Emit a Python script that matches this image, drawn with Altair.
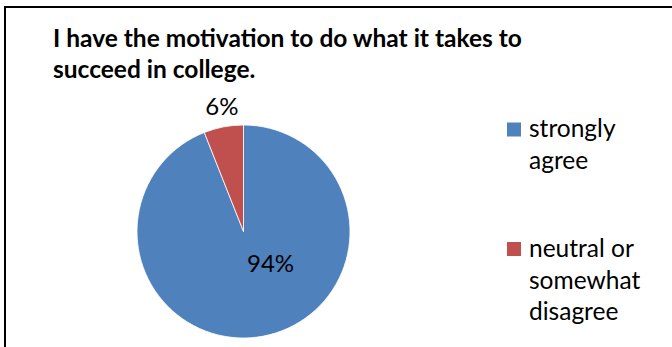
import altair as alt
import pandas as pd

categories = ["strongly agree", "neutral or somewhat disagree"]
values = [94, 6]
pct_labels = ["94%", "6%"]
legend_texts = ["strongly\nagree", "neutral or\nsomewhat\ndisagree"]
colors = ["#4F81BD", "#C0504D"]
title_text = "I have the motivation to do what it takes to\nsucceed in college."

FONT = "Lato"

df = pd.DataFrame({
    "cat": categories,
    "value": values,
    "label": pct_labels,
    "legend": legend_texts,
    "idx": list(range(len(categories))),
})
title_df = pd.DataFrame({"t": [title_text]})

color_scale = alt.Scale(domain=categories, range=colors)
base = alt.Chart(df)

CX, CY, R = 243.5, 231.5, 106.5

pie = base.mark_arc(radius=R, stroke="white", strokeWidth=0.8).encode(
    x=alt.value(CX), y=alt.value(CY),
    theta=alt.Theta("value:Q", stack=True),
    color=alt.Color("cat:N", scale=color_scale, legend=None),
    order=alt.Order("idx:Q"),
)

lab_small = base.transform_calculate(
    txt="datum.value < 50 ? datum.label : ''"
).mark_text(radius=126, font=FONT, fontSize=24, color="black", dx=2,
            align="center", baseline="middle").encode(
    x=alt.value(CX), y=alt.value(CY),
    theta=alt.Theta("value:Q", stack=True),
    order=alt.Order("idx:Q"),
    text="txt:N",
)

lab_big = base.transform_calculate(
    txt="datum.value >= 50 ? datum.label : ''"
).mark_text(radius=40, font=FONT, fontSize=24, color="black", dx=19.5, dy=-5.8,
            align="center", baseline="middle").encode(
    x=alt.value(CX), y=alt.value(CY),
    theta=alt.Theta("value:Q", stack=True),
    order=alt.Order("idx:Q"),
    text="txt:N",
)

leg_sq = base.mark_square(size=196, opacity=1).encode(
    x=alt.value(514),
    y=alt.Y("cat:N", scale=alt.Scale(type="point", domain=categories, range=[129.5, 249], padding=0), axis=None),
    color=alt.Color("cat:N", scale=color_scale, legend=None),
)

leg_txt = base.mark_text(font=FONT, fontSize=24.5, align="left", baseline="alphabetic",
                         lineBreak="\n", lineHeight=31.5, color="black").encode(
    x=alt.value(529),
    y=alt.Y("cat:N", scale=alt.Scale(type="point", domain=categories, range=[137, 257], padding=0), axis=None),
    text="legend:N",
)

title = alt.Chart(title_df).mark_text(font=FONT, fontSize=24.5, fontWeight="bold", align="left",
                                      baseline="alphabetic", lineBreak="\n", lineHeight=31.6,
                                      color="black").encode(
    x=alt.value(53), y=alt.value(46.7), text="t:N"
)

border_top = alt.Chart(title_df).mark_rule(color="black", strokeWidth=2).encode(
    x=alt.value(4), x2=alt.value(672), y=alt.value(7)
)
border_left = alt.Chart(title_df).mark_rule(color="black", strokeWidth=2).encode(
    x=alt.value(5), y=alt.value(6), y2=alt.value(347)
)

chart = alt.layer(
    pie, lab_small, lab_big, leg_sq, leg_txt, title, border_top, border_left
).resolve_scale(y="independent").properties(
    width=672, height=347, autosize=alt.AutoSizeParams(type="none"), padding=0,
    background="white",
).configure_view(stroke=None)

chart.save("out.html", embed_options={"renderer": "svg", "actions": False})
